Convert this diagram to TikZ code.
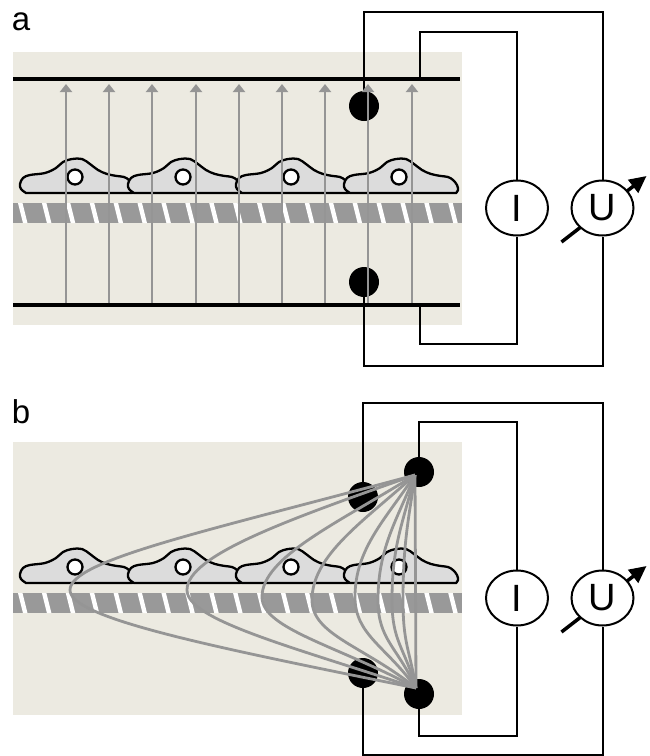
\documentclass[tikz,border=0pt]{standalone}
\usepackage{fontspec}
\newfontfamily\labfont{Liberation Sans}
\usetikzlibrary{arrows.meta,shapes.geometric}

\definecolor{bath}{HTML}{ECEAE1}
\definecolor{fieldgray}{HTML}{959595}
\definecolor{cellgray}{HTML}{DCDCDC}
\definecolor{membgray}{HTML}{999999}

\tikzset{
  wire/.style={line width=1pt, black},
  plate/.style={line width=1.75pt, black},
  electrode/.style={circle, fill=black, inner sep=0pt, minimum size=15pt},
  fieldline/.style={line width=1.4pt, fieldgray},
  fieldarrow/.style={fieldline, -{Triangle[length=4pt,width=6pt]}},
  meter/.style={ellipse, draw, line width=1pt, fill=white, inner sep=0pt,
    minimum width=31pt, minimum height=27.5pt,
    font=\labfont\fontsize{19}{20}\selectfont},
  cellline/.style={line width=1.15pt, black, fill=cellgray},
  panellabel/.style={anchor=base west, inner sep=0pt,
    font=\labfont\fontsize{16.5}{18}\selectfont},
  cellpic/.pic={
    \filldraw[cellline] plot[smooth, tension=0.6] coordinates {
      (112,0) (114,-3) (113,-8) (109,-13) (104,-16) (97,-17) (87,-19)
      (78,-23) (70,-29) (62,-34) (52,-34) (43,-31) (36,-25) (25,-20)
      (10,-18) (3,-15) (0,-9) (1,-4) (6,0)} -- cycle;
    \filldraw[line width=1.15pt, black, fill=white] (55,-16) circle[radius=7.5];
  }
}

% bath, striped substrate, cell layer and the two meters of one panel
\newcommand\bathsetup{%
  \fill[bath] (13,52) rectangle (462,325);
  \begin{scope}
    \clip (13,203) rectangle (462,223);
    \fill[membgray] (13,203) rectangle (462,223);
    \foreach \k in {0,...,19}
      \fill[white] ({18+23.9*\k},203) -- ++(4.5,0) -- ++(5,20) -- ++(-4.5,0) -- cycle;
  \end{scope}
  \foreach \cx in {20,128,236,344}
    \pic at (\cx,193) {cellpic};
  \coordinate (Uc) at (602.5,208);
  % adjustable-source arrow, passing behind the voltmeter
  \draw[line width=1.75pt, -{Triangle[length=8.5pt,width=8pt]}]
    ([shift={(-41,34)}]Uc) -- ([shift={(44,-32)}]Uc);
  \node[meter] (I) at (517,208) {I};
  \node[meter] (U) at (Uc) {U};
}

\begin{document}
\begin{tikzpicture}[x=0.5pt, y=-0.5pt]
\useasboundingbox (0,0) rectangle (649,756);

% ---------------- panel a: plate electrodes, uniform field ----------------
\begin{scope}[name prefix=a-]
  \bathsetup
  \node[panellabel] (lab) at (11.5,30) {a};
  \coordinate (pT) at (420,79);
  \coordinate (pB) at (420,305);
  \node[electrode] (eT) at (364,106) {};
  \node[electrode] (eB) at (364,282) {};
  % voltage sensing loop
  \draw[wire] (eT.center) -- (eT.center |- 0,12) -| (U.north);
  \draw[wire] (eB.center) -- (eB.center |- 0,366) -| (U.south);
  % current loop
  \draw[wire] (pT) -- (pT |- 0,32) -| (I.north);
  \draw[wire] (pB) -- (pB |- 0,344) -| (I.south);
  % plates
  \draw[plate] (13,79) -- (460,79);
  \draw[plate] (13,305) -- (460,305);
  % field arrows
  \foreach \fx in {66,109,152,196,239,282,325,368,412}
    \draw[fieldarrow] (\fx,303) -- (\fx,84);
\end{scope}

% ---------------- panel b: point electrodes, fringing field ----------------
\begin{scope}[shift={(0,390)}, name prefix=b-]
  \bathsetup
  \node[panellabel] (lab) at (11.5,33) {b};
  \node[electrode] (eT) at (363,107) {};
  \node[electrode] (eB) at (363,283) {};
  \node[electrode] (iT) at (419,82) {};
  \node[electrode] (iB) at (419,304) {};
  \draw[wire] (eT.center) -- (eT.center |- 0,13) -| (U.north);
  \draw[wire] (eB.center) -- (eB.center |- 0,365) -| (U.south);
  \draw[wire] (iT.center) -- (iT.center |- 0,32) -| (I.north);
  \draw[wire] (iB.center) -- (iB.center |- 0,346) -| (I.south);
  \coordinate (fT) at (415,85);
  \coordinate (fB) at (416,298);
  \draw[fieldline] (fT) .. controls (208,141) and (70,170) .. (70,200)
                        .. controls (70,228) and (208,256) .. (fB);
  \draw[fieldline] (fT) .. controls (290,129) and (187,165) .. (187,200)
                        .. controls (187,230) and (290,256) .. (fB);
  \draw[fieldline] (fT) .. controls (338,133) and (262,167) .. (262,207)
                        .. controls (262,239) and (339,256) .. (fB);
  \draw[fieldline] (fT) .. controls (364,131) and (312,165) .. (312,210)
                        .. controls (312,245) and (364,256) .. (fB);
  \draw[fieldline] (fT) .. controls (385,130) and (355,159) .. (355,207)
                        .. controls (355,245) and (386,256) .. (fB);
  \draw[fieldline] (fT) .. controls (397,130) and (378,158) .. (378,210)
                        .. controls (378,250) and (397,256) .. (fB);
  \draw[fieldline] (fT) .. controls (403,133) and (392,155) .. (392,210)
                        .. controls (392,252) and (404,256) .. (fB);
  \draw[fieldline] (fT) .. controls (409,127) and (403,152) .. (403,210)
                        .. controls (403,254) and (409.5,259) .. (fB);
  \draw[fieldline] (fT) -- (fB);
\end{scope}
\end{tikzpicture}
\end{document}
